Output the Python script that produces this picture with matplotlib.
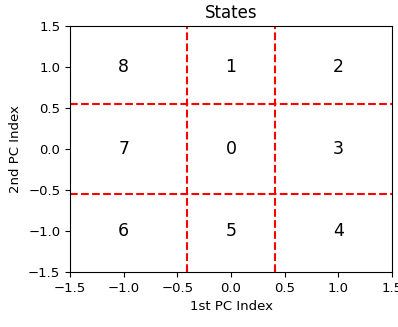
import matplotlib
matplotlib.use("Agg")
import matplotlib.pyplot as plt

# state labels laid out on a 3x3 grid in PC space
state_ids = [8, 1, 2, 7, 0, 3, 6, 5, 4]
state_x = [-1.0, 0.0, 1.0, -1.0, 0.0, 1.0, -1.0, 0.0, 1.0]
state_y = [1.0, 1.0, 1.0, 0.0, 0.0, 0.0, -1.0, -1.0, -1.0]

# partition thresholds
x_cuts = [-0.41, 0.41]
y_cuts = [-0.55, 0.55]

fig = plt.figure(figsize=(3.98, 3.27), dpi=100)
ax = fig.add_axes([70 / 398, 55 / 327, 322 / 398, 246 / 327])

for xc in x_cuts:
    ax.axvline(xc, color="red", linestyle="--", linewidth=1.5)
for yc in y_cuts:
    ax.axhline(yc, color="red", linestyle="--", linewidth=1.5)

for sid, sx, sy in zip(state_ids, state_x, state_y):
    ax.text(sx, sy, str(sid), ha="center", va="center", fontsize=12.5)

ax.set_xlim(-1.5, 1.5)
ax.set_ylim(-1.5, 1.5)
ax.set_xticks([-1.5, -1.0, -0.5, 0.0, 0.5, 1.0, 1.5])
ax.set_yticks([-1.5, -1.0, -0.5, 0.0, 0.5, 1.0, 1.5])
ax.tick_params(labelsize=9.5)
ax.set_xlabel("1st PC Index", fontsize=9.5)
ax.set_ylabel("2nd PC Index", fontsize=9.5)
ax.set_title("States", fontsize=12)

fig.savefig("out.png", dpi=100)
